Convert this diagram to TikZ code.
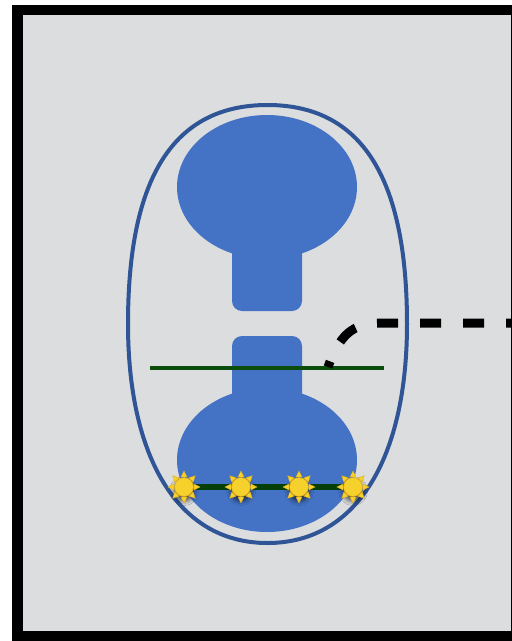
\documentclass[tikz,border=0pt]{standalone}
\usepackage{xcolor}
\usepackage{tikz}
\usetikzlibrary{shadows.blur}

\definecolor{panel}{HTML}{DCDDDF}
\definecolor{cellfill}{HTML}{4472C4}
\definecolor{cellline}{HTML}{2F5597}
\definecolor{plate}{HTML}{0B4D0B}
\definecolor{chain}{HTML}{063F08}
\definecolor{sunyellow}{HTML}{F6D12C}
\definecolor{sunedge}{HTML}{D9A81C}

\pgfdeclarelayer{front}
\pgfsetlayers{main,front}

\begin{document}
\begin{tikzpicture}[x=1pt,y=-1pt]
		\tikzstyle{membrane}=[draw=cellline, line width=4pt]
		\tikzstyle{body}=[fill=cellfill]
		\tikzstyle{sun}=[circle, fill=sunyellow, draw=sunedge, line width=0.6pt, minimum size=19pt, inner sep=0pt,
			blur shadow={shadow xshift=0pt, shadow yshift=-4pt, shadow blur radius=5pt, shadow opacity=75}]
		\tikzstyle{ray}=[fill=sunyellow, draw=sunedge, line width=0.3pt]

		\useasboundingbox (0,0) rectangle (512,641);
		\clip (0,0) rectangle (512,641);

		% frame
		\fill[black] (12,5) rectangle (530,660);
		\fill[panel] (23,15) rectangle (511,631);

		% outer wall, a bit fuller than an ellipse
		\draw[membrane] (128,324) .. controls (128,188) and (167,105) .. (267.5,105)
			.. controls (368,105) and (407,188) .. (407,324)
			.. controls (407,455) and (358.7,543) .. (267.5,543)
			.. controls (176.3,543) and (128,455) .. cycle;

		% upper half
		\fill[body] (267,187) ellipse [x radius=90pt, y radius=72pt];
		\fill[body, rounded corners=10pt] (232,220) -- (232,311) -- (302,311) -- (302,220) -- cycle;

		% lower half
		\fill[body, rounded corners=10pt] (232,420) -- (232,336) -- (302,336) -- (302,420) -- cycle;
		\fill[body] (267,460) ellipse [x radius=90pt, y radius=72pt];

		% dividing plate
		\coordinate (plateL) at (150,368);
		\coordinate (plateR) at (384,368);
		\draw[plate, line width=4pt] (plateL) -- (plateR);

		% lead going out to the right
		\coordinate (lead) at (328,367);
		\coordinate (exit) at (520,323);
		\draw[black, line width=9pt, dash pattern=on 21pt off 22pt, dash phase=15pt]
			(lead) .. controls (342,328) and (358,323) .. (385,323) -- (exit);

		% chain of suns
		\begin{pgfonlayer}{front}
			\node [sun] (s1) at (184,487) {};
			\node [sun] (s2) at (241,487) {};
			\node [sun] (s3) at (299,487) {};
			\node [sun] (s4) at (353,487) {};

			\foreach \s in {s1,s2,s3,s4}
				\foreach \a in {0,45,...,315}
					\filldraw[ray] ([shift={(\a:16pt)}]\s.center) -- ([shift={(\a+17:10.5pt)}]\s.center)
						-- ([shift={(\a-17:10.5pt)}]\s.center) -- cycle;
		\end{pgfonlayer}

		\draw[chain, line width=6pt] (s1) -- (s2) -- (s3) -- (s4);

\end{tikzpicture}
\end{document}
